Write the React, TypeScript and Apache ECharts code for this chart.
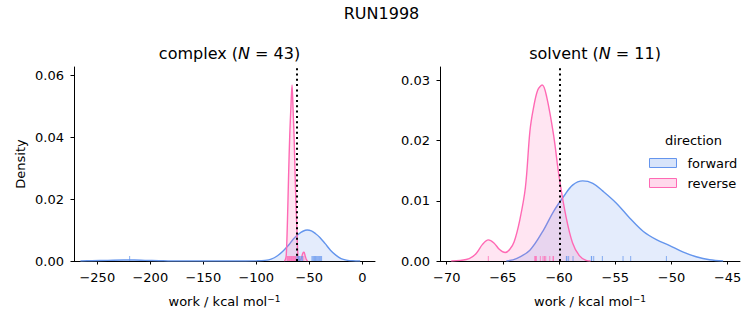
import React, { useEffect, useRef } from "react";
import * as echarts from "echarts";

// ---- data ----
const complexForward: [number, number][] = [
  [-266, 0], [-255, 0.0001], [-240, 0.0002], [-225, 0.0003], [-215, 0.0003], [-205, 0.0002], [-192, 0.0001], [-180, 0],
  [-110, 0], [-100, 0.00005], [-92, 0.0002], [-86, 0.0006], [-80, 0.0017], [-74, 0.0035], [-69, 0.0053],
  [-65, 0.0071], [-60, 0.0087], [-56, 0.0096], [-52, 0.01], [-48, 0.0097], [-44, 0.0088], [-40, 0.0076],
  [-35, 0.0056], [-30, 0.0035], [-25, 0.0019], [-20, 0.0008], [-15, 0.0003], [-9, 0.00006], [-2, 0],
];
const complexReverse: [number, number][] = [
  [-73.5, 0], [-72.5, 0.0005], [-71.7, 0.002], [-70.6, 0.013], [-69.5, 0.028], [-68.4, 0.041], [-67.3, 0.05],
  [-66.3, 0.0568], [-65.3, 0.049], [-64.2, 0.0385], [-63.4, 0.028], [-62.6, 0.019], [-61.6, 0.0095],
  [-60.7, 0.0016], [-59.6, 0.0003], [-58.4, 0.0003], [-57.2, 0.0012], [-56, 0.0026], [-55, 0.0028],
  [-54, 0.0018], [-52.8, 0.0005], [-51.6, 0],
];
const solventForward: [number, number][] = [
  [-64.7, 0], [-63.8, 0.0004], [-62.6, 0.0018], [-61.4, 0.0051], [-60.5, 0.0082], [-59.6, 0.0107],
  [-58.8, 0.0126], [-57.9, 0.0133], [-57, 0.0129], [-56.1, 0.0116], [-54.9, 0.0096], [-53.7, 0.0071],
  [-52.5, 0.0049], [-51.3, 0.0035], [-50.2, 0.0026], [-49, 0.0015], [-47.8, 0.0007], [-46.6, 0.0002], [-45.4, 0],
];
const solventReverse: [number, number][] = [
  [-69.6, 0], [-68.8, 0.0001], [-68, 0.0004], [-67.4, 0.0012], [-66.8, 0.0028], [-66.3, 0.0035], [-65.8, 0.003],
  [-65.3, 0.0019], [-64.8, 0.0014], [-64.4, 0.0019], [-64, 0.0032], [-63.5, 0.0068], [-63, 0.0122],
  [-62.6, 0.0215], [-62.3, 0.0252], [-61.9, 0.0284], [-61.5, 0.0292], [-61.1, 0.0272], [-60.5, 0.021],
  [-60, 0.014], [-59.4, 0.0075], [-58.8, 0.003], [-58.2, 0.0009], [-57.6, 0.0001], [-57.2, 0],
];
const complexForwardRug = [-219.5, -62.5, -61.4, -60.2, -59.3, -58.6, -57.5, -56.4, -47.5, -46.6, -45.8, -45, -44.2,
  -43.4, -42.6, -41.8, -41, -40.2, -39.3, -38.4];
const complexReverseRug = [-71, -70.4, -69.8, -69.2, -68.6, -68, -67.4, -66.8, -66.2, -65.6, -65, -64.4, -63.8,
  -63.2, -62.6, -55.2];
const solventForwardRug = [-59.35, -59.3, -59.15, -58.76, -57.13, -57.1, -56.92, -56.15, -54.31, -53.63, -50.45];
const solventReverseRug = [-66.3, -62.17, -62.1, -62.02, -61.67, -61.43, -61.3, -61.19, -60.83, -60.54, -60.5];
const complexRef = -62.3;
const solventRef = -59.9;
const complexXTicks = [-250, -200, -150, -100, -50, 0];
const complexYTicks = [0, 0.02, 0.04, 0.06];
const solventXTicks = [-70, -65, -60, -55, -50, -45];
const solventYTicks = [0, 0.01, 0.02, 0.03];
const seriesNames = ["forward", "reverse"];

const FONT = "DejaVu Sans";
const BLUE = "#6495ED";
const PINK = "#FF69B4";
const BLUE_FILL = "rgba(100,149,237,0.25)";
const PINK_FILL = "rgba(255,105,180,0.25)";

const fmtX = (v: number) => String(v).replace("-", "\u2212");

function xAxis(grid: number, min: number, max: number, ticks: number[]) {
  return {
    type: "value", gridIndex: grid, min, max,
    name: "work / kcal mol{sup|\u22121}", nameLocation: "middle", nameGap: 33,
    nameTextStyle: {
      fontFamily: FONT, fontSize: 13, color: "#000",
      rich: { sup: { fontFamily: FONT, fontSize: 9, color: "#000", verticalAlign: "top", padding: [0, 0, 6, 0] } },
    },
    axisLine: { show: true, onZero: false, lineStyle: { color: "#000", width: 1 } },
    axisTick: { show: true, length: 3.5, customValues: ticks, lineStyle: { color: "#000", width: 1 } },
    axisLabel: { customValues: ticks, formatter: fmtX, fontFamily: FONT, fontSize: 13, color: "#000", margin: 10 },
    splitLine: { show: false },
  };
}
function yAxis(grid: number, max: number, ticks: number[], name: string) {
  return {
    type: "value", gridIndex: grid, min: 0, max,
    name, nameLocation: "middle", nameGap: 47,
    nameTextStyle: { fontFamily: FONT, fontSize: 13, color: "#000" },
    axisLine: { show: true, onZero: false, lineStyle: { color: "#000", width: 1 } },
    axisTick: { show: true, length: 3.5, customValues: ticks, lineStyle: { color: "#000", width: 1 } },
    axisLabel: { customValues: ticks, formatter: (v: number) => v.toFixed(2), fontFamily: FONT, fontSize: 13, color: "#000", margin: 10 },
    splitLine: { show: false },
  };
}
function kde(name: string, idx: number, data: [number, number][], color: string, fill: string, ref?: number) {
  const s: any = {
    type: "line", name, xAxisIndex: idx, yAxisIndex: idx, data, smooth: 0.35, symbol: "none", showSymbol: false,
    lineStyle: { color, width: 1.4 }, itemStyle: { color }, areaStyle: { color: fill, origin: "start" },
    z: name === "reverse" ? 3 : 2,
  };
  if (ref !== undefined) {
    s.markLine = {
      silent: true, symbol: "none", label: { show: false },
      lineStyle: { color: "#000", width: 2, type: [2, 3.3] },
      data: [{ xAxis: ref }], z: 10,
    };
  }
  return s;
}
function rug(name: string, idx: number, xs: number[], color: string) {
  return {
    type: "scatter", name, xAxisIndex: idx, yAxisIndex: idx, data: xs.map((x) => [x, 0]),
    symbol: "rect", symbolSize: [1, 5], symbolOffset: [0, -2.5],
    itemStyle: { color, opacity: 0.75 }, z: 4, silent: true,
  };
}

export default function App() {
  const ref = useRef<HTMLDivElement>(null);
  useEffect(() => {
    const chart = echarts.init(ref.current!, undefined, { renderer: "svg" });
    chart.setOption({
      animation: false,
      backgroundColor: "#fff",
      title: [
        { text: "RUN1998", left: 376.5, top: 0, textAlign: "center", textStyle: { fontFamily: FONT, fontSize: 16, fontWeight: "normal", color: "#000" } },
        {
          text: "complex ({i|N} = 43)", left: 224.5, top: 40, textAlign: "center",
          textStyle: { fontFamily: FONT, fontSize: 16, fontWeight: "normal", color: "#000", rich: { i: { fontFamily: FONT, fontSize: 16, fontStyle: "italic", color: "#000" } } },
        },
        {
          text: "solvent ({i|N} = 11)", left: 590, top: 40, textAlign: "center",
          textStyle: { fontFamily: FONT, fontSize: 16, fontWeight: "normal", color: "#000", rich: { i: { fontFamily: FONT, fontSize: 16, fontStyle: "italic", color: "#000" } } },
        },
      ],
      legend: {
        orient: "vertical", left: 644, top: 151.5, itemWidth: 27, itemHeight: 9, itemGap: 7,
        icon: "rect",
        textStyle: { fontFamily: FONT, fontSize: 13, color: "#000", padding: [0, 0, 0, 6] },
        data: [
          { name: seriesNames[0], itemStyle: { color: BLUE_FILL, borderColor: BLUE, borderWidth: 1 } },
          { name: seriesNames[1], itemStyle: { color: PINK_FILL, borderColor: PINK, borderWidth: 1 } },
        ],
        selectedMode: false,
      },
      graphic: [
        { type: "text", left: 665, top: 134, style: { text: "direction", fontFamily: FONT, fontSize: 13, fill: "#000" } },
      ],
      grid: [
        { left: 74, right: 378, top: 67, bottom: 64 },
        { left: 440, right: 13, top: 67, bottom: 64 },
      ],
      xAxis: [xAxis(0, -272, 12, complexXTicks), xAxis(1, -70.6, -43.9, solventXTicks)],
      yAxis: [yAxis(0, 0.0626, complexYTicks, "Density"), yAxis(1, 0.0322, solventYTicks, "")],
      series: [
        kde(seriesNames[0], 0, complexForward, BLUE, BLUE_FILL, complexRef),
        kde(seriesNames[1], 0, complexReverse, PINK, PINK_FILL),
        rug(seriesNames[0], 0, complexForwardRug, BLUE),
        rug(seriesNames[1], 0, complexReverseRug, PINK),
        kde(seriesNames[0], 1, solventForward, BLUE, BLUE_FILL, solventRef),
        kde(seriesNames[1], 1, solventReverse, PINK, PINK_FILL),
        rug(seriesNames[0], 1, solventForwardRug, BLUE),
        rug(seriesNames[1], 1, solventReverseRug, PINK),
      ],
    });
    return () => chart.dispose();
  }, []);
  return <div ref={ref} style={{ position: "absolute", left: 0, top: 0, width: 753, height: 325 }} />;
}
